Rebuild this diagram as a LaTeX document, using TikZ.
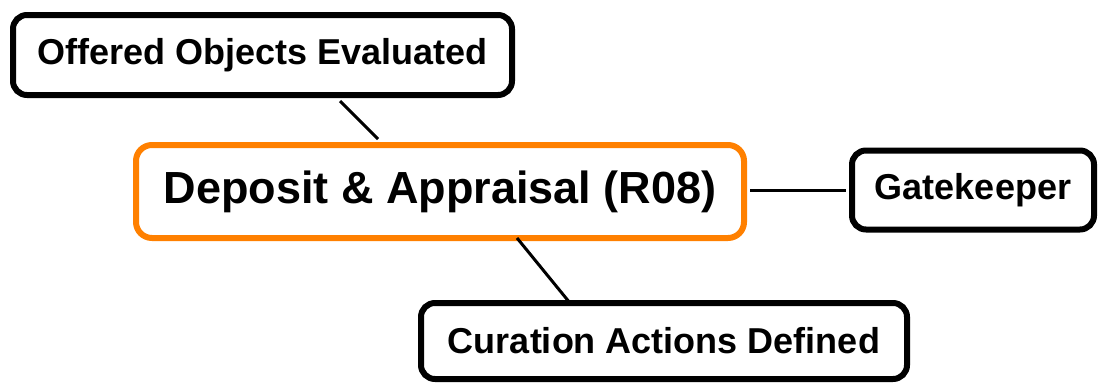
\documentclass[tikz,border=0pt]{standalone}
\usepackage{fontspec}
\setmainfont{Liberation Sans}
\definecolor{hub}{HTML}{FF8000}
\begin{document}
\begin{tikzpicture}[x=1pt,y=-1pt,
  leaf/.style={draw=black,line width=6pt,rounded corners=14pt,fill=white,
    inner sep=0pt,font=\fontsize{36}{40}\selectfont\bfseries},
  hubbox/.style={draw=hub,line width=6pt,rounded corners=16pt,fill=white,
    inner sep=0pt,font=\fontsize{45}{50}\selectfont\bfseries},
  link/.style={draw=black,line width=3pt}]
\useasboundingbox (0,0) rectangle (1099,383);
% topic nodes
\node[leaf,minimum width=499pt,minimum height=80pt] (off) at (262.5,55) {Offered Objects Evaluated};
\node[hubbox,minimum width=608pt,minimum height=93pt] (main) at (440,191.5) {Deposit \& Appraisal (R08)};
\node[leaf,minimum width=242pt,minimum height=79pt] (gate) at (973,190) {Gatekeeper};
\node[leaf,minimum width=486pt,minimum height=76pt] (cur) at (664,341) {Curation Actions Defined};
% links
\draw[link] ([xshift=77.5pt,yshift=-3pt]off.south) -- ([xshift=-62pt,yshift=3pt]main.north);
\draw[link] ([xshift=77pt,yshift=3pt]main.south) -- ([xshift=-94pt,yshift=-3pt]cur.north);
\draw[link] ([xshift=3pt]gate.west -| main.east) -- ([xshift=-3pt]gate.west);
\end{tikzpicture}
\end{document}
